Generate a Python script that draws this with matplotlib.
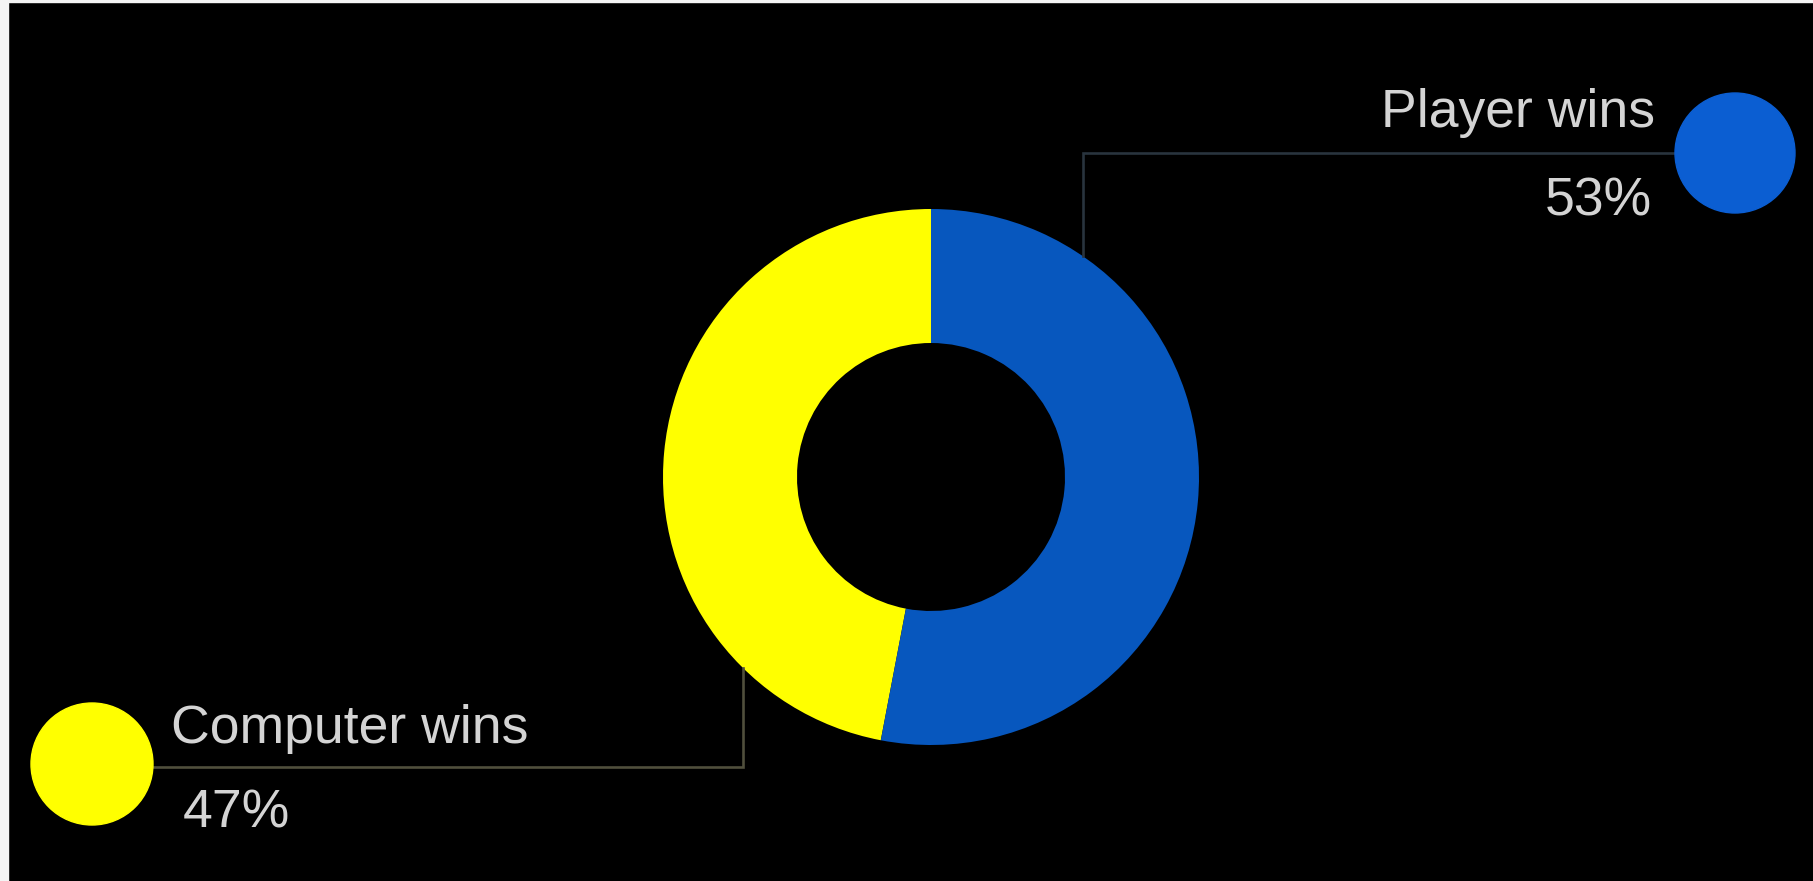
import matplotlib
matplotlib.use("Agg")
import matplotlib.pyplot as plt
from matplotlib.patches import Circle, Rectangle

# Outcome shares
labels = ["Computer wins", "Player wins"]
shares = [47, 53]
ring_colors = ["#ffff00", "#0757be"]
dot_colors = ["#ffff00", "#0b5ed2"]
leader_colors = ["#504f3c", "#29343e"]

W, H = 1813, 881
fig = plt.figure(figsize=(W / 100, H / 100), dpi=100, facecolor="black")
ax = fig.add_axes([0, 0, 1, 1])
ax.set_facecolor("black")

# Work in pixel-like units, y measured from the top
def py(y):
    return H - y

center = (931, py(477))
outer_r = 268
ring_w = 134

ax.pie(shares, colors=ring_colors, startangle=90, counterclock=True,
       center=center, radius=outer_r,
       wedgeprops=dict(width=ring_w, linewidth=0))

# Leader lines from the ring to the legend dots
# Player: up from the ring, then right
ax.plot([1083, 1083, 1735], [py(256), py(153), py(153)],
        color=leader_colors[1], lw=1.9, solid_joinstyle="miter", zorder=1)
# Computer: down from the ring, then left
ax.plot([743, 743, 92], [py(668), py(767), py(767)],
        color=leader_colors[0], lw=1.9, solid_joinstyle="miter", zorder=1)

# Legend dots
ax.add_patch(Circle((92, py(764)), 61, color=dot_colors[0], zorder=3))
ax.add_patch(Circle((1735, py(153)), 60, color=dot_colors[1], zorder=3))

txt = dict(color="#d4d4d4", fontsize=38.5, family=["Liberation Sans", "DejaVu Sans"],
           va="baseline")
ax.text(1655, py(127), labels[1], ha="right", **txt)
ax.text(1652, py(215), f"{shares[1]}%", ha="right", **txt)
ax.text(171, py(743), labels[0], ha="left", **txt)
ax.text(183, py(827), f"{shares[0]}%", ha="left", **txt)

ax.set_xlim(0, W)
ax.set_ylim(0, H)
ax.set_aspect("equal")
ax.axis("off")

# Thin light margin along the left and top edges
fig.patches.append(Rectangle((0, 0), 8 / W, 1, transform=fig.transFigure,
                             color="#f4f4f4", zorder=10))
fig.patches.append(Rectangle((0, 1 - 2 / H), 1, 2 / H, transform=fig.transFigure,
                             color="#f4f4f4", zorder=10))

fig.savefig("out.png", dpi=100, facecolor="black")
